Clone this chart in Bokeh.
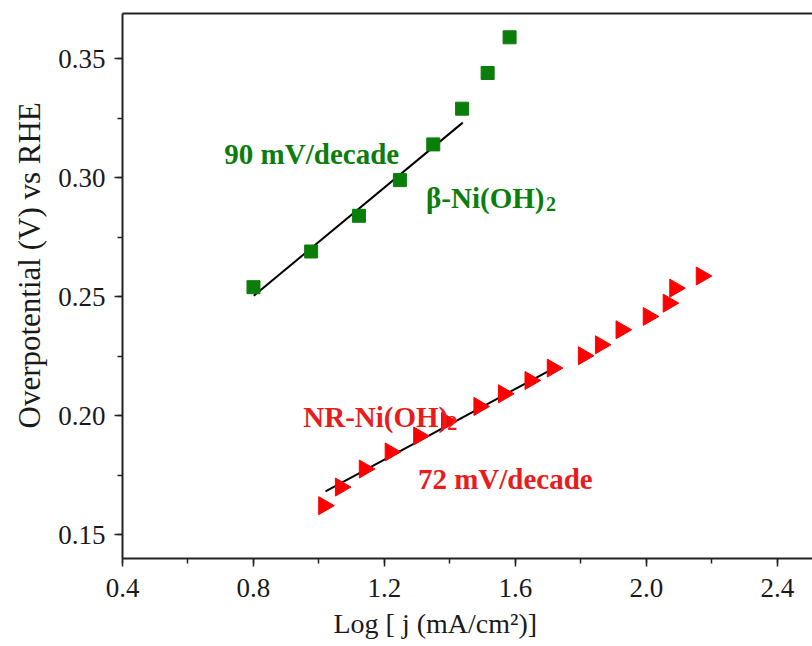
from bokeh.plotting import figure
from bokeh.models import (Range1d, SingleIntervalTicker, NumeralTickFormatter,
                          LinearAxis, FixedTicker, Label, Title)
from bokeh.embed import file_html
from bokeh.resources import INLINE
import numpy as np

# Tafel data: log current density vs overpotential
beta_logj = [0.80, 0.976, 1.122, 1.247, 1.349, 1.437, 1.515, 1.582]
beta_eta = [0.254, 0.269, 0.284, 0.299, 0.314, 0.329, 0.344, 0.359]

nr_logj = [1.015, 1.066, 1.139, 1.218, 1.305, 1.390, 1.489, 1.564, 1.645,
           1.713, 1.808, 1.860, 1.923, 2.006, 2.067, 2.087, 2.168]
nr_eta = [0.1622, 0.1700, 0.1776, 0.1848, 0.1915, 0.1976, 0.2039, 0.2092,
          0.2148, 0.2200, 0.2252, 0.2298, 0.2361, 0.2417, 0.2473, 0.2536, 0.2587]

# Linear Tafel fits: (x start, x end, slope, intercept)
beta_fit = (0.801, 1.439, 0.1140, 0.1591)
nr_fit = (1.020, 1.708, 0.0743, 0.0924)

X_START, X_END = 0.4, 2.507
Y_START, Y_END = 0.140, 0.369

GREEN = "#0b7d0b"
RED = "#ff0000"
RED_TEXT = "#e81c1c"
INK = "#1a1a1a"
FONT = "Liberation Serif"

p = figure(width=812, height=646, output_backend="svg", toolbar_location=None,
           x_range=Range1d(X_START, X_END), y_range=Range1d(Y_START, Y_END),
           min_border_left=121, min_border_right=0, min_border_top=13,
           min_border_bottom=88)
p.outline_line_color = None
p.grid.visible = False
p.background_fill_color = "white"
p.border_fill_color = "white"

for ax in (p.xaxis[0], p.yaxis[0]):
    ax.axis_line_width = 2
    ax.axis_line_color = "#222222"
    ax.major_tick_line_color = "#222222"
    ax.minor_tick_line_color = "#222222"
    ax.major_tick_line_width = 1.5
    ax.minor_tick_line_width = 1.5
    ax.major_tick_in = 0
    ax.major_tick_out = 8
    ax.minor_tick_in = 0
    ax.minor_tick_out = 5
    ax.major_label_text_font = FONT
    ax.major_label_text_font_size = "27px"
    ax.major_label_text_color = INK

p.xaxis[0].ticker = SingleIntervalTicker(interval=0.4, num_minor_ticks=2)
p.xaxis[0].formatter = NumeralTickFormatter(format="0.0")
p.xaxis[0].major_label_standoff = 12

p.yaxis[0].ticker = SingleIntervalTicker(interval=0.05, num_minor_ticks=2)
p.yaxis[0].formatter = NumeralTickFormatter(format="0.00")
p.yaxis[0].major_label_standoff = 9

# top frame line
top = LinearAxis(ticker=FixedTicker(ticks=[]), major_label_text_font_size="0px",
                 major_tick_out=0, minor_tick_out=0, major_label_standoff=0,
                 axis_line_width=2, axis_line_color="#222222")
p.add_layout(top, "above")

# axis titles
p.add_layout(Title(text="Log [ j (mA/cm²)]", align="left", offset=211,
                   text_font=FONT, text_font_size="28px", text_color=INK,
                   text_font_style="normal", standoff=13), "below")
p.add_layout(Title(text="Overpotential (V) vs RHE", align="left", offset=130,
                   text_font=FONT, text_font_size="31px", text_color=INK,
                   text_font_style="normal", standoff=18), "left")

# fit lines
for (x0, x1, m, b) in (beta_fit, nr_fit):
    xs = np.array([x0, x1])
    p.line(xs, m * xs + b, line_color="black", line_width=2)

# markers
p.scatter(beta_logj, beta_eta, marker="square", size=13,
          fill_color=GREEN, line_color=GREEN)
p.scatter(nr_logj, nr_eta, marker="triangle", size=18, angle=-np.pi / 2,
          fill_color=RED, line_color=RED)

def add_label(x, y, text, color, size="29px", x_offset=0, y_offset=0):
    p.add_layout(Label(x=x, y=y, text=text, text_color=color,
                       text_font=FONT, text_font_size=size,
                       text_font_style="bold", text_baseline="alphabetic",
                       text_align="left", x_offset=x_offset, y_offset=y_offset))

add_label(0.711, 0.3101, "90 mV/decade", GREEN)
add_label(1.327, 0.2916, "β-Ni(OH)", GREEN)
add_label(1.327, 0.2916, "2", GREEN, size="20px", x_offset=120, y_offset=-6)
add_label(0.952, 0.1996, "NR-Ni(OH)", RED_TEXT)
add_label(0.952, 0.1996, "2", RED_TEXT, size="20px", x_offset=144, y_offset=-6)
add_label(1.302, 0.1735, "72 mV/decade", RED_TEXT)

open("out.html", "w").write(file_html(p, INLINE))
